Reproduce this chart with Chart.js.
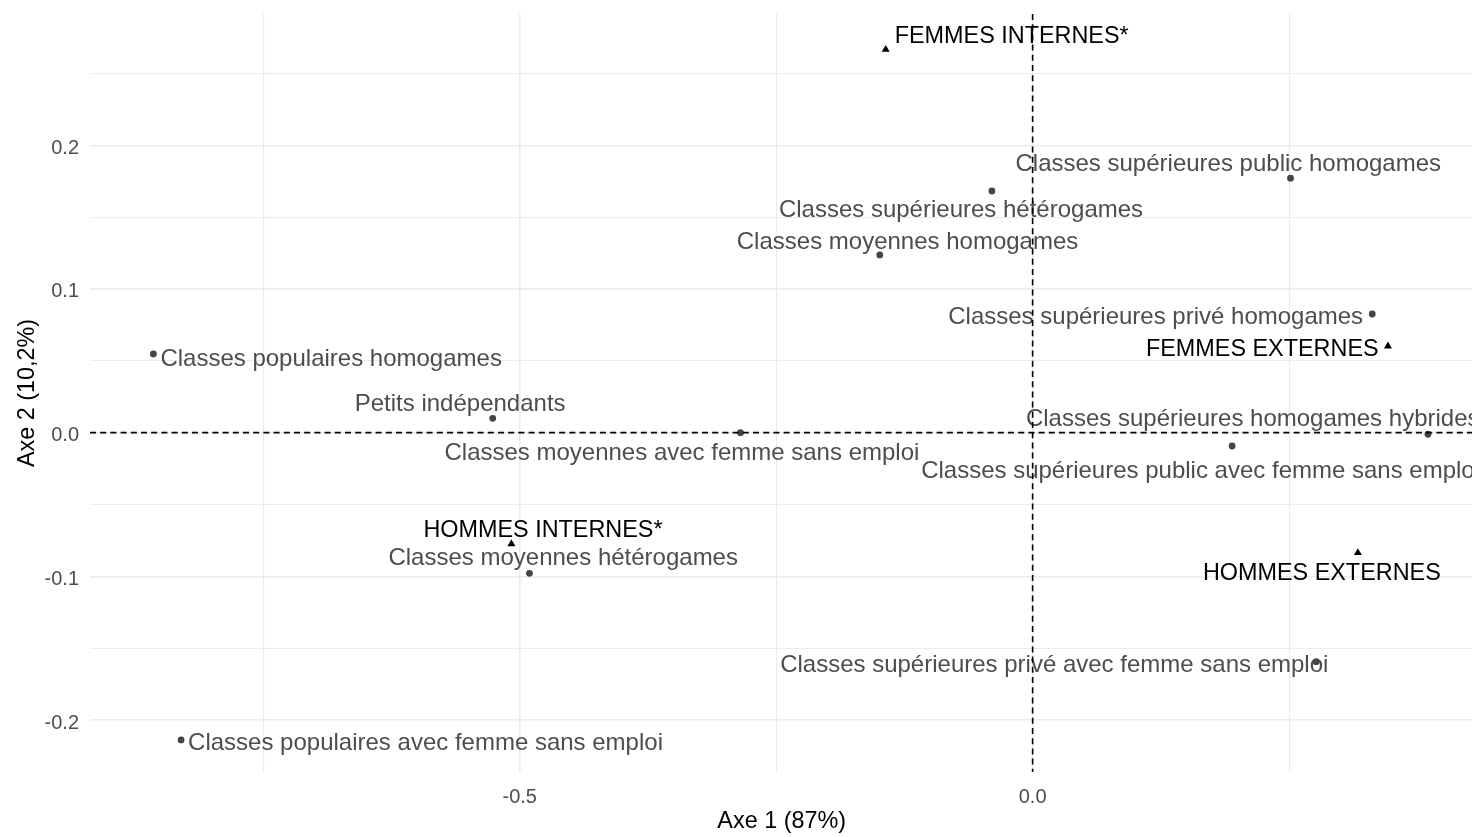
<!DOCTYPE html>
<html>
<head>
<meta charset="utf-8">
<script src="https://cdn.jsdelivr.net/npm/chart.js@4.4.1/dist/chart.umd.min.js"></script>
<style>
html,body{margin:0;padding:0;background:#ffffff;overflow:hidden}
#wrap{width:1478px;height:837px;position:relative}
</style>
</head>
<body>
<div id="wrap"><canvas id="c"></canvas></div>
<script>
// ---------------- data ----------------
const categoryNames = [
  "Classes supérieures public homogames",
  "Classes supérieures hétérogames",
  "Classes moyennes homogames",
  "Classes supérieures privé homogames",
  "Classes populaires homogames",
  "Petits indépendants",
  "Classes moyennes avec femme sans emploi",
  "Classes supérieures homogames hybrides",
  "Classes supérieures public avec femme sans emploi",
  "Classes moyennes hétérogames",
  "Classes supérieures privé avec femme sans emploi",
  "Classes populaires avec femme sans emploi"
];
const categoryX = [0.2514, -0.0397, -0.1490, 0.3311, -0.8571, -0.5263, -0.2848, 0.3854, 0.1945, -0.4905, 0.2764, -0.8301];
const categoryY = [0.1771, 0.1682, 0.1237, 0.0826, 0.0548, 0.0100, 0.0000, -0.0011, -0.0093, -0.0979, -0.1594, -0.2139];

const groupNames = ["FEMMES INTERNES*", "FEMMES EXTERNES", "HOMMES INTERNES*", "HOMMES EXTERNES"];
const groupX = [-0.1432, 0.3464, -0.5081, 0.3171];
const groupY = [0.2667, 0.0602, -0.0774, -0.0836];

const xMajorTicks = [-0.5, 0.0];
const xMinorTicks = [-0.75, -0.25, 0.25];
const yMajorTicks = [-0.2, -0.1, 0.0, 0.1, 0.2];
const yMinorTicks = [-0.15, -0.05, 0.05, 0.15, 0.25];

const xAxisTitle = "Axe 1 (87%)";
const yAxisTitle = "Axe 2 (10,2%)";

// ---------------- label placement (text start / baseline, pixels from marker) ----------------
const categoryLabelOffsets = [
  [-275, -7], [-213, 26], [-143, -6], [-424, 10], [7, 12], [-138, -7],
  [-296, 27], [-402, -8], [-311, 32], [-141, -8], [-536, 10], [7, 10]
];
const groupLabelOffsets = [[9, -6], [-242, 10], [-88, -7], [-155, 27]];

// ---------------- styles ----------------
const FONT = "'Liberation Sans', Arial, Helvetica, sans-serif";
const GRID = "#ebebeb";
const near = (arr, v) => arr.some(m => Math.abs(m - v) < 1e-9);
const zeroPad = s => { s.paddingTop = 0; s.paddingBottom = 0; s.paddingLeft = 0; s.paddingRight = 0; };

const labelAndLinesPlugin = {
  id: "labelsAndZeroLines",
  afterDatasetsDraw(chart) {
    const ctx = chart.ctx;
    ctx.save();
    chart.data.datasets.forEach((ds, di) => {
      const meta = chart.getDatasetMeta(di);
      ctx.font = ds.labelFont;
      ctx.fillStyle = ds.labelColor;
      ctx.textAlign = "left";
      ctx.textBaseline = "alphabetic";
      meta.data.forEach((el, i) => {
        const off = ds.labelOffsets[i];
        ctx.fillText(ds.pointLabels[i], el.x + off[0], el.y + off[1]);
      });
    });
    ctx.restore();

    const {left, right, top, bottom} = chart.chartArea;
    const x0 = chart.scales.x.getPixelForValue(0);
    const y0 = chart.scales.y.getPixelForValue(0);
    ctx.save();
    ctx.beginPath();
    ctx.rect(left, top, right - left, bottom - top);
    ctx.clip();
    ctx.strokeStyle = "#000000";
    ctx.lineWidth = 1.6;
    ctx.setLineDash([6, 4.2]);
    ctx.beginPath();
    ctx.moveTo(left, y0);
    ctx.lineTo(right, y0);
    ctx.stroke();
    ctx.beginPath();
    ctx.moveTo(x0, top);
    ctx.lineTo(x0, bottom);
    ctx.stroke();
    ctx.restore();
  }
};

new Chart(document.getElementById("c"), {
  type: "scatter",
  data: {
    datasets: [
      {
        label: "Catégories",
        data: categoryX.map((x, i) => ({x: x, y: categoryY[i]})),
        pointLabels: categoryNames,
        labelOffsets: categoryLabelOffsets,
        labelFont: "24px " + FONT,
        labelColor: "#4d4d4d",
        pointStyle: "circle",
        pointRadius: 3.4,
        pointHoverRadius: 3.4,
        backgroundColor: "#454545",
        borderWidth: 0
      },
      {
        label: "Groupes",
        data: groupX.map((x, i) => ({x: x, y: groupY[i]})),
        pointLabels: groupNames,
        labelOffsets: groupLabelOffsets,
        labelFont: "23.4px " + FONT,
        labelColor: "#000000",
        pointStyle: "triangle",
        pointRadius: 4.6,
        pointHoverRadius: 4.6,
        backgroundColor: "#000000",
        borderWidth: 0
      }
    ]
  },
  options: {
    responsive: true,
    maintainAspectRatio: false,
    animation: false,
    layout: {padding: {top: 14, left: 0, right: 0, bottom: 0}},
    plugins: {legend: {display: false}, tooltip: {enabled: false}},
    scales: {
      x: {
        type: "linear",
        position: "bottom",
        min: -0.9189,
        max: 0.4297,
        afterBuildTicks: s => { s.ticks = [...xMinorTicks, ...xMajorTicks].sort((a, b) => a - b).map(v => ({value: v})); },
        afterFit: s => { s.height = 65; zeroPad(s); },
        ticks: {
          autoSkip: false,
          maxRotation: 0,
          padding: 13,
          color: "#4d4d4d",
          font: {family: FONT, size: 20},
          callback: v => near(xMajorTicks, v) ? v.toFixed(1) : ""
        },
        grid: {
          color: GRID,
          drawTicks: false,
          lineWidth: c => (c.tick && near(xMajorTicks, c.tick.value)) ? 1.6 : 1.1
        },
        border: {display: false},
        title: {
          display: true,
          text: xAxisTitle,
          color: "#000000",
          font: {family: FONT, size: 23.4},
          padding: {top: 0, bottom: 1}
        }
      },
      y: {
        type: "linear",
        position: "left",
        min: -0.2362,
        max: 0.2914,
        afterBuildTicks: s => { s.ticks = [...yMinorTicks, ...yMajorTicks].sort((a, b) => a - b).map(v => ({value: v})); },
        afterFit: s => { s.width = 90; zeroPad(s); },
        ticks: {
          autoSkip: false,
          padding: 11,
          labelOffset: 3,
          color: "#4d4d4d",
          font: {family: FONT, size: 20},
          callback: v => near(yMajorTicks, v) ? v.toFixed(1) : ""
        },
        grid: {
          color: GRID,
          drawTicks: false,
          lineWidth: c => (c.tick && near(yMajorTicks, c.tick.value)) ? 1.6 : 1.1
        },
        border: {display: false},
        title: {
          display: true,
          text: yAxisTitle,
          color: "#000000",
          font: {family: FONT, size: 23.4},
          padding: {top: 14, bottom: 0}
        }
      }
    }
  },
  plugins: [labelAndLinesPlugin]
});
</script>
</body>
</html>
